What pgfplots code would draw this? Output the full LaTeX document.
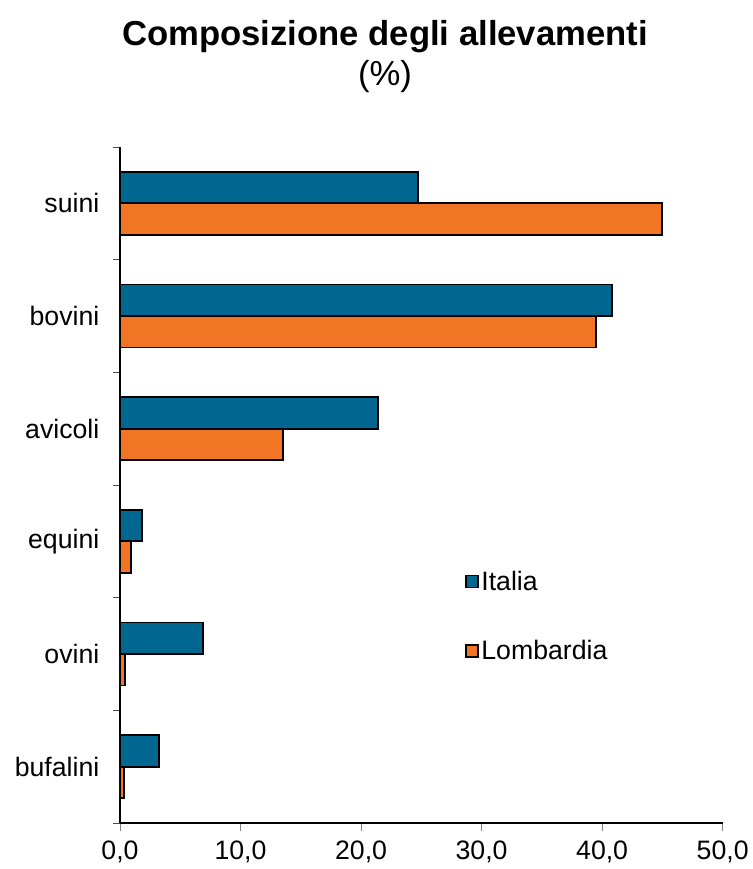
\documentclass[border=0pt]{standalone}
\usepackage{pgfplots}
\pgfplotsset{compat=1.18}
\usepackage{fontspec}
\setmainfont{Liberation Sans}
\definecolor{itblue}{RGB}{0,103,145}
\definecolor{lomor}{RGB}{240,117,36}
\begin{document}
\begin{tikzpicture}
\begin{axis}[
  at={(0,0)}, anchor=south west,
  scale only axis, width=452pt, height=507pt,
  xbar, bar width=0.28,
  xmin=0, xmax=50, ymin=-0.5, ymax=5.5,
  axis x line*=bottom, axis y line*=left,
  axis line style={-, line width=0.8pt},
  xtick={0,10,...,50},
  ytick={0,...,5},
  yticklabels={bufalini,ovini,equini,avicoli,bovini,suini},
  minor ytick={-0.5,0.5,...,5.5},
  tick align=outside,
  major tick length=6pt, minor tick length=5pt,
  major y tick style={draw=none},
  minor y tick style={draw=black!70, line width=0.6pt},
  major x tick style={draw=black!50, line width=0.6pt},
  tick label style={font=\fontsize{20}{24}\selectfont},
  yticklabel style={xshift=-6pt},
  xticklabel style={yshift=-4pt},
  /pgf/number format/.cd, fixed, fixed zerofill, precision=1, use comma, assume math mode=true,
  /pgfplots/.cd,
  legend style={draw=none, fill=none, at={(0.572,0.306)}, anchor=west,
    font=\fontsize{20}{24}\selectfont, row sep=32pt, inner sep=0pt,
    nodes={inner sep=2pt}},
  legend cell align=left,
  legend image code/.code={\draw[#1, line width=1.3pt] (0pt,-4.5pt) rectangle (9pt,4.5pt);},
]
\addplot[fill=itblue, draw=black, line width=1.4pt, bar shift=0.14]
  coordinates {(24.7,5) (40.8,4) (21.4,3) (1.8,2) (6.9,1) (3.2,0)};
\addplot[fill=lomor, draw=black, line width=1.4pt, bar shift=-0.14]
  coordinates {(45.0,5) (39.5,4) (13.5,3) (0.9,2) (0.4,1) (0.3,0)};
\legend{Italia,Lombardia}
\end{axis}
\node[font=\bfseries\fontsize{26}{30}\selectfont] at (198.75pt,590pt) {Composizione degli allevamenti};
\node[font=\fontsize{26}{30}\selectfont] at (198.75pt,559.5pt) {(\%)};
\pgfresetboundingbox
\path (-90pt,-34.5pt) rectangle (474.75pt,617.25pt);
\end{tikzpicture}
\end{document}
